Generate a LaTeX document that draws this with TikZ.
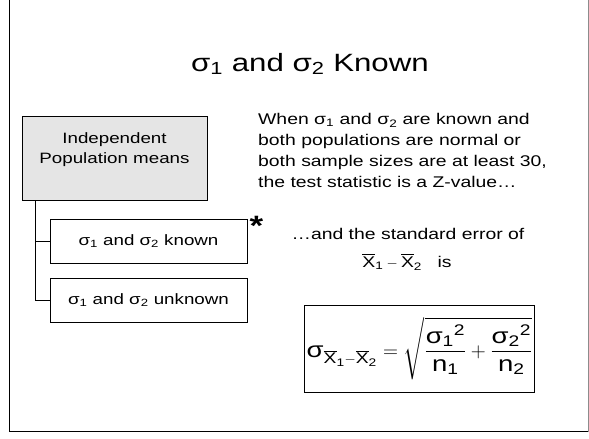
\documentclass[tikz,border=0pt]{standalone}
\usepackage{fontspec}
\usepackage{amsmath}
\setmainfont[FakeStretch=1.25]{Liberation Sans}
\usetikzlibrary{positioning, calc}
\newcommand{\sig}[1]{σ\textsubscript{#1}}

\begin{document}
\begin{tikzpicture}[
  x=1pt, y=1pt,
  font=\fontsize{15.5}{18}\selectfont,
  panel/.style={draw, line width=0.9pt, fill=black!10, align=center,
                minimum width=185pt, minimum height=84pt, inner sep=3pt,
                text depth=20pt, font=\fontsize{15}{20}\selectfont},
  branch/.style={draw, line width=0.8pt, minimum width=197pt,
                 minimum height=44pt, font=\fontsize{15}{18}\selectfont},
  link/.style={draw, line width=0.8pt},
  head/.style={font=\fontsize{25}{30}\selectfont},
  body/.style={align=left, font=\fontsize{15.5}{21}\selectfont, inner sep=0pt},
  formula/.style={draw, line width=0.9pt, minimum width=227pt,
                  minimum height=87pt, inner sep=2pt,
                  font=\fontsize{22}{26}\selectfont},
]
\useasboundingbox (0,0) rectangle (589,439);

% ====================== frame ==========================================
\draw[line width=1pt] (9,439) -- (9,7) -- (588,7);
\draw[black!45, line width=0.5pt] (588,7) -- (588,439);

\node[head] (title) at (310,375) {\sig{1} and \sig{2} Known};

% ====================== tree of cases ==================================
\node[panel] (indep) at (114.5,281) {Independent\\Population means};
\node[branch] (known) at (148.5,198) {\sig{1} and \sig{2} known};
\node[branch] (unknown) at (148.5,139) {\sig{1} and \sig{2} unknown};
\coordinate (trunk) at ($(indep.south west)+(14,0)$);
\draw[link] (trunk) |- (known.west);
\draw[link] (trunk) |- (unknown.west);
\node[font=\fontsize{28}{28}\selectfont\bfseries, inner sep=0pt,
      anchor=north west] (star) at ([shift={(2,3)}]known.north east) {*};

% ====================== explanation ====================================
\node[body, anchor=north west] (cond) at (258,326)
  {When \sig{1} and \sig{2} are known and\\
   both populations are normal or\\
   both sample sizes are at least 30,\\
   the test statistic is a Z-value\ldots};
\node (stderr) at (408,205) {\ldots and the standard error of};
\node (diff) at (407,177)
  {$\overline{\text{X}}_{\text{1}}-\overline{\text{X}}_{\text{2}}$\quad is};

\node[formula] (se) at (419.5,90.5)
  {$\text{σ}_{\overline{\text{X}}_{\text{1}}-\overline{\text{X}}_{\text{2}}}
    = \sqrt{\dfrac{{\text{σ}_{\text{1}}}^{\text{2}}}{\text{n}_{\text{1}}}
          + \dfrac{{\text{σ}_{\text{2}}}^{\text{2}}}{\text{n}_{\text{2}}}}$};

\end{tikzpicture}
\end{document}
